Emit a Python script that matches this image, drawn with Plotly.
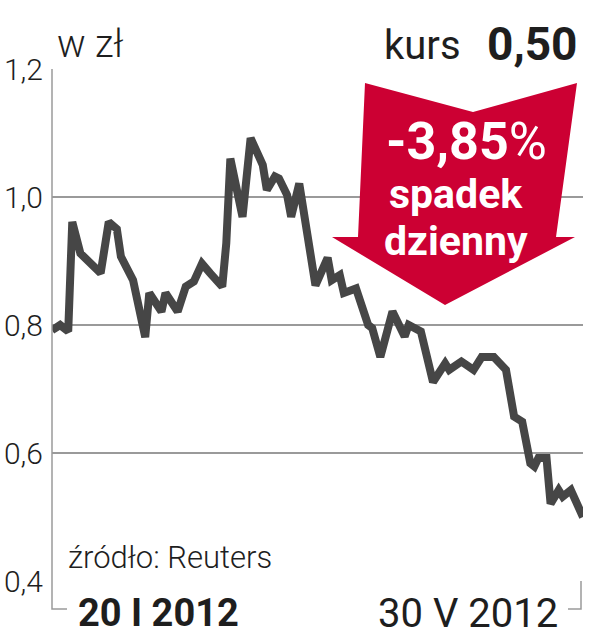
import plotly.graph_objects as go

# ---- data ----
dates = [
    "2012-01-20", "2012-01-22", "2012-01-24", "2012-01-25", "2012-01-27", "2012-01-29",
    "2012-02-01", "2012-02-03", "2012-02-05", "2012-02-06", "2012-02-09", "2012-02-12",
    "2012-02-13", "2012-02-16", "2012-02-17", "2012-02-20", "2012-02-22", "2012-02-24",
    "2012-02-26", "2012-02-28", "2012-03-02", "2012-03-03", "2012-03-04", "2012-03-07",
    "2012-03-09", "2012-03-12", "2012-03-13", "2012-03-15", "2012-03-16", "2012-03-18",
    "2012-03-19", "2012-03-21", "2012-03-23", "2012-03-25", "2012-03-28", "2012-03-29",
    "2012-03-31", "2012-04-01", "2012-04-04", "2012-04-07", "2012-04-08", "2012-04-10",
    "2012-04-13", "2012-04-16", "2012-04-17", "2012-04-19", "2012-04-20", "2012-04-23",
    "2012-04-26", "2012-04-27", "2012-04-30", "2012-05-03", "2012-05-05", "2012-05-08",
    "2012-05-11", "2012-05-13", "2012-05-15", "2012-05-17", "2012-05-18", "2012-05-19",
    "2012-05-21", "2012-05-22", "2012-05-24", "2012-05-25", "2012-05-27", "2012-05-30",
]
prices = [
    0.792, 0.800, 0.790, 0.961, 0.912, 0.899,
    0.881, 0.961, 0.950, 0.907, 0.870, 0.781,
    0.850, 0.821, 0.850, 0.821, 0.860, 0.868,
    0.896, 0.881, 0.860, 0.928, 1.060, 0.969,
    1.092, 1.050, 1.011, 1.032, 1.029, 1.003,
    0.969, 1.021, 0.933, 0.862, 0.905, 0.870,
    0.878, 0.850, 0.857, 0.800, 0.795, 0.750,
    0.821, 0.782, 0.800, 0.792, 0.790, 0.711,
    0.740, 0.730, 0.743, 0.730, 0.750, 0.750,
    0.730, 0.657, 0.649, 0.584, 0.579, 0.592,
    0.592, 0.521, 0.542, 0.532, 0.542, 0.500,
]
y_ticks = [0.4, 0.6, 0.8, 1.0, 1.2]
start_label = "20 I 2012"
end_label = "30 V 2012"
unit_label = "w zł"
source_label = "źródło: Reuters"
last_price_label = "0,50"
daily_change_label = "-3,85"

# ---- geometry helpers (pixel -> paper) ----
W, H = 616, 640
L, R, T, B = 52, 583, 69, 581
def px(x):
    return (x - L) / (R - L)
def py(y):
    return (B - y) / (B - T)

FONT = "Roboto"
TXT = "#1e1e1e"
GRID = "#9a9a9a"
RED = "#cc0033"

fig = go.Figure()
fig.add_trace(go.Scatter(
    x=dates, y=prices, mode="lines",
    line=dict(color="#464646", width=8),
    hoverinfo="skip", showlegend=False,
))

fig.update_layout(
    width=W, height=H,
    margin=dict(l=L, r=W - R, t=T, b=H - B, autoexpand=False),
    paper_bgcolor="white", plot_bgcolor="white",
    separators=", ",
    xaxis=dict(range=["2012-01-20", "2012-05-30"], showgrid=False, zeroline=False,
               showticklabels=False, ticks="", showline=False, automargin=False),
    yaxis=dict(range=[0.4, 1.2], tickvals=y_ticks, tickformat=".1f",
               showgrid=True, gridcolor=GRID, gridwidth=1.5, zeroline=False,
               ticks="", showline=False, ticklabelstandoff=8, automargin=False,
               tickfont=dict(family=FONT, size=30, color=TXT, weight=300)),
    font=dict(family=FONT, color=TXT),
)

# axis line and brackets
shapes = [
    dict(type="path", xref="paper", yref="paper", layer="above",
         path=f"M {px(52)} {py(69)} L {px(52)} {py(609)} L {px(67)} {py(609)}",
         line=dict(color=GRID, width=1.5)),
    dict(type="path", xref="paper", yref="paper", layer="above",
         path=f"M {px(581)} {py(581)} L {px(581)} {py(609)} L {px(568)} {py(609)}",
         line=dict(color=GRID, width=1.5)),
]
# red arrow
arrow_pts = [(365, 83), (473, 112), (577, 83), (556, 237), (575, 237),
             (445, 305), (332, 237), (358, 237)]
path = "M " + " L ".join(f"{px(x)} {py(y)}" for x, y in arrow_pts) + " Z"
shapes.append(dict(type="path", xref="paper", yref="paper", layer="above",
                   path=path, fillcolor=RED, line=dict(width=0)))
fig.update_layout(shapes=shapes)

def ann(text, x, y, size, xanchor="left", weight=400, color=TXT, yanchor="middle"):
    fig.add_annotation(text=text, x=px(x), y=py(y), xref="paper", yref="paper",
                       xanchor=xanchor, yanchor=yanchor, showarrow=False,
                       font=dict(family=FONT, size=size, color=color, weight=weight))

ann(unit_label, 55, 44, 38, weight=300)
ann("kurs", 463, 45, 40, xanchor="right")
ann(last_price_label, 580, 44, 46, xanchor="right", weight=700)
ann(daily_change_label + "<span style='font-weight:400'>%</span>", 466, 141, 52,
    xanchor="center", weight=700, color="white")
ann("spadek", 456, 194, 41, xanchor="center", weight=700, color="white")
ann("dzienny", 456, 241, 41, xanchor="center", weight=700, color="white")
ann(source_label, 66, 557, 31, weight=300)
ann(start_label, 76, 613, 38, weight=700)
ann(end_label, 560, 613, 40, xanchor="right")

fig.write_html("out.html", config={"displayModeBar": False},
               post_script="document.body.style.margin='0';")
